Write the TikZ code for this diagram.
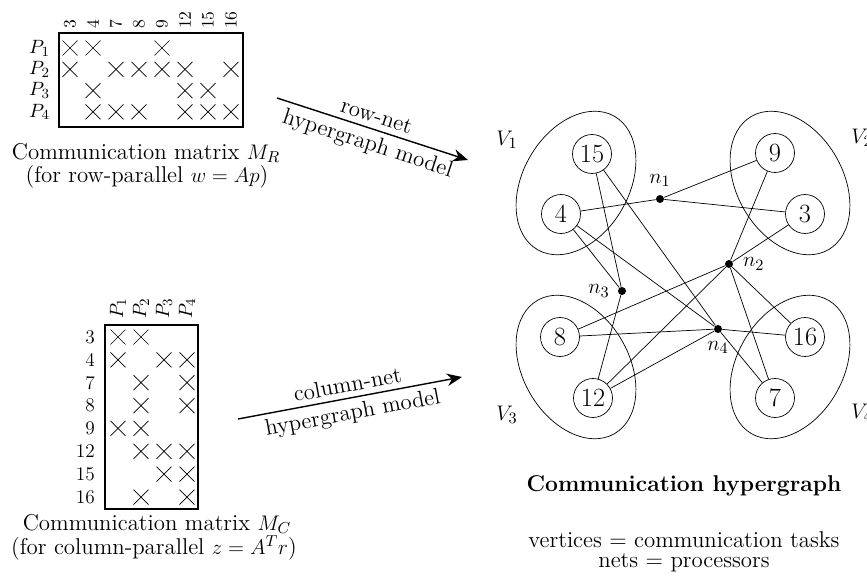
\documentclass[tikz,border=0pt]{standalone}
\usetikzlibrary{calc,arrows.meta,positioning}

\tikzset{
  xmark/.style={thin},
  matlabel/.style={inner sep=1pt,font=\fontsize{11}{13}\selectfont},
  vtx/.style={circle,draw,minimum size=0.78cm,inner sep=0pt,font=\fontsize{15}{17}\selectfont},
  netdot/.style={circle,fill,minimum size=0.16cm,inner sep=0pt},
  part/.style={draw,thin},
  bigarrow/.style={-{Stealth[scale=1.3,angle'=45]},thick},
  arrowtext/.style={midway,sloped,inner sep=3pt},
}

\begin{document}
\begin{tikzpicture}[x=0.02cm,y=0.02cm,font=\fontsize{13}{15}\selectfont]
\useasboundingbox (0,0) rectangle (867,-578);

% matrix M_R
\draw[semithick] (59,-33) rectangle (243,-127);
\foreach \t [count=\i] in {3,4,7,8,9,12,15,16}
  \node[matlabel,rotate=90,anchor=west,font=\fontsize{10}{12}\selectfont] (rc\i) at ({70+23*(\i-1)},-31) {\t};
\foreach \i in {1,...,4}
  \node[matlabel,anchor=east] (rp\i) at (52,{-48-21.3*(\i-1)}) {$P_{\i}$};
\foreach \r/\cs in {1/{1,2,5},2/{1,3,4,5,6,8},3/{2,6,7},4/{2,3,4,6,7,8}}
  \foreach \c in \cs
    \draw[xmark] ({70+23*(\c-1)-7.5},{-48-21.3*(\r-1)-7.5}) -- ++(15,15) ++(-15,0) -- ++(15,-15);
\node (capR) at (146,-153) {Communication matrix $M_R$};
\node (capRb) at (147,-177) {(for row-parallel $w=Ap$)};

% matrix M_C
\draw[semithick] (105,-325) rectangle (198,-509);
\foreach \i in {1,...,4}
  \node[matlabel,rotate=90,anchor=west] (cp\i) at ({118+23*(\i-1)},-321) {$P_{\i}$};
\foreach \t [count=\i] in {3,4,7,8,9,12,15,16}
  \node[matlabel,anchor=east] (cr\i) at (97,{-337-22.86*(\i-1)}) {\t};
\foreach \r/\cs in {1/{1,2},2/{1,3,4},3/{2,4},4/{2,4},5/{1,2},6/{2,3,4},7/{3,4},8/{2,4}}
  \foreach \c in \cs
    \draw[xmark] ({118+23*(\c-1)-7.5},{-337-22.86*(\r-1)-7.5}) -- ++(15,15) ++(-15,0) -- ++(15,-15);
\node (capC) at (157,-524) {Communication matrix $M_C$};
\node (capCb) at (154,-548) {(for column-parallel $z=A^Tr$)};

% arrows
\coordinate (a1) at (277,-98);
\coordinate (a2) at (468,-160);
\coordinate (b1) at (238,-419);
\coordinate (b2) at (462,-377);
\draw[bigarrow] (a1) -- (a2)
  node[arrowtext,above] {row-net}
  node[arrowtext,below] {hypergraph model};
\draw[bigarrow] (b1) -- (b2)
  node[arrowtext,above] {column-net}
  node[arrowtext,below] {hypergraph model};

% parts
\draw[part,rotate around={60:(576,-183)}] (576,-183) ellipse (77 and 53);
\draw[part,rotate around={120:(790,-183)}] (790,-183) ellipse (77 and 53);
\draw[part,rotate around={120:(576,-367)}] (576,-367) ellipse (77 and 53);
\draw[part,rotate around={60:(790,-367)}] (790,-367) ellipse (77 and 53);
\node (V1) at (507,-140) {$V_1$};
\node (V2) at (862,-138) {$V_2$};
\node (V3) at (507,-415) {$V_3$};
\node (V4) at (862,-413) {$V_4$};

% vertices
\node[vtx] (v15) at (592,-154) {15};
\node[vtx] (v4)  at (561,-214) {4};
\node[vtx] (v9)  at (775,-153) {9};
\node[vtx] (v3)  at (805,-214) {3};
\node[vtx] (v8)  at (560,-337) {8};
\node[vtx] (v12) at (593,-398) {12};
\node[vtx] (v16) at (805,-337) {16};
\node[vtx] (v7)  at (775,-398) {7};

% nets
\node[netdot,label={[label distance=1pt]above:$n_1$}] (n1) at (660,-199) {};
\node[netdot,label={[label distance=2pt]right:$n_2$}] (n2) at (729,-264) {};
\node[netdot,label={[label distance=1pt]left:$n_3$}] (n3) at (622,-291) {};
\node[netdot,label={[label distance=1pt]below:$n_4$}] (n4) at (718,-329) {};

\foreach \n/\vs in {n1/{3,4,9},n2/{3,7,8,9,12,16},n3/{4,12,15},n4/{4,7,8,12,15,16}}
  \foreach \v in \vs
    \draw (\n) -- (v\v);

% legend
\node[font=\fontsize{13}{15}\selectfont\bfseries] (title) at (684,-486) {Communication hypergraph};
\node (leg1) at (684,-540) {vertices = communication tasks};
\node (leg2) at (684,-563) {nets = processors};
\end{tikzpicture}
\end{document}
